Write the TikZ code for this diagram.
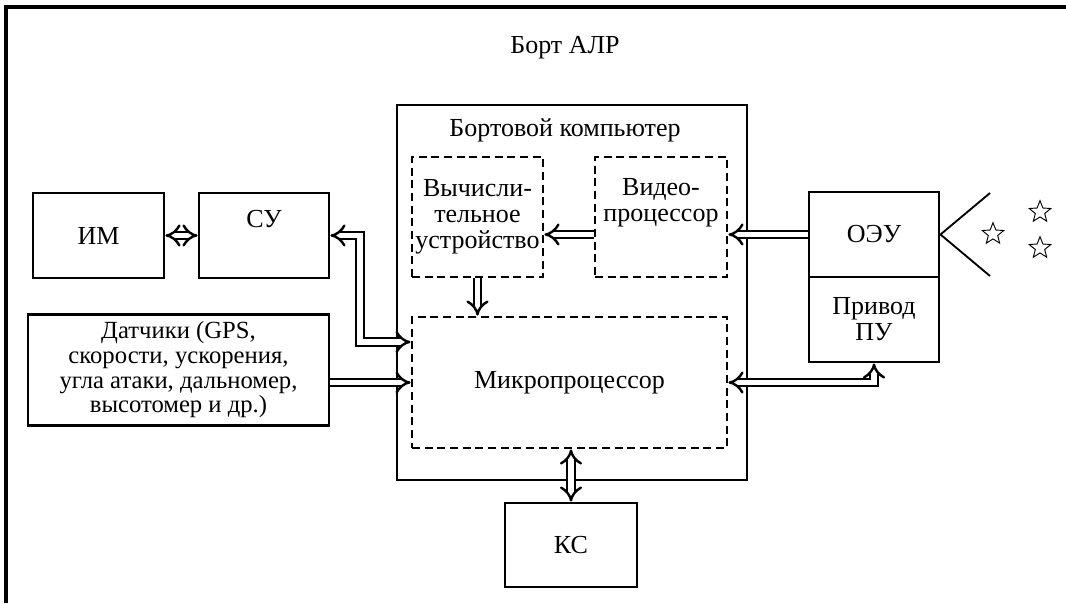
\documentclass[tikz,border=0pt]{standalone}
\usepackage{fontspec}
\setmainfont{Liberation Serif}
\usetikzlibrary{arrows.meta,positioning,shapes.geometric,calc}
\tikzset{
  blk/.style={draw, line width=2.2pt, align=center, inner sep=0pt},
  dsh/.style={draw, line width=2.2pt, dash pattern=on 6pt off 3.5pt, align=center, inner sep=0pt},
  dbl/.style={draw, line width=1.8pt, double, double distance=3.8pt},
  ray/.style={line width=1.4pt},
  starnode/.style={star, star points=5, star point ratio=2.3, draw, line width=0.7pt, minimum size=17pt, inner sep=0pt},
}
\begin{document}
\begin{tikzpicture}[x=0.75pt, y=-0.75pt, font=\fontsize{19.5}{19.5}\selectfont,
    >={Implies[scale=1.2]}]
  \useasboundingbox (0,0) rectangle (1066,603);
  % frame of the vehicle
  \draw[line width=2.5pt] (6,603) -- (6,7) -- (1066,7);
  \node (bort) at (565,48) {Борт АЛР};

  % on-board computer
  \node[blk, minimum width=262.5pt, minimum height=281.25pt] (comp) at (572,292.5) {};
  \node (complbl) at (565,130) {Бортовой компьютер};
  \node[dsh, minimum width=98.25pt, minimum height=90pt] (vu) at (477.5,217) {Вычисли-\\тельное\\устройство};
  \node[dsh, minimum width=99pt, minimum height=90pt] (vp) at (661,217) {Видео-\\процессор\\[6pt]};
  \node[dsh, minimum width=236.25pt, minimum height=98.25pt] (mp) at (569.5,382.5) {Микропроцессор};

  % left side
  \node[blk, minimum width=98.25pt, minimum height=63.75pt] (im) at (98.5,235.5) {ИМ};
  \node[blk, minimum width=97.5pt, minimum height=63.75pt] (su) at (264,235.5) {СУ\\[6pt]};
  \node[blk, minimum width=225.75pt, minimum height=83pt, font=\fontsize{18.5}{18.5}\selectfont] (dat) at (178.5,370)
    {Датчики (GPS,\\скорости, ускорения,\\угла атаки, дальномер,\\высотомер и др.)};

  % right side
  \node[blk, minimum width=97.5pt, minimum height=63.75pt] (oeu) at (874,234.5) {ОЭУ};
  \node[blk, minimum width=97.5pt, minimum height=63.75pt] (pu) at (874,319.5) {Привод\\ПУ};
  \coordinate (rayup) at (990,193);
  \coordinate (raydn) at (990,276);
  \draw[ray] (rayup) -- (oeu.east) -- (raydn);
  \node[starnode] (st1) at (993,234) {};
  \node[starnode] (st2) at (1040,212) {};
  \node[starnode] (st3) at (1040,248) {};

  % bottom
  \node[blk, minimum width=99pt, minimum height=63pt] (ks) at (571,545) {КС};

  % links
  \draw[dbl, {Implies[scale=1]}-{Implies[scale=1]}] (im.east) -- (su.west);
  \draw[dbl, ->] (oeu.west) -- (oeu.west -| vp.east);
  \draw[dbl, ->] (vp.west |- oeu) -- (vu.east |- oeu);
  \draw[dbl, ->] (vu.south) -- (mp.north -| vu);
  \coordinate (knee) at (360,342);
  \draw[dbl, <->] (su.east) -| (knee) -- (mp.west |- knee);
  \draw[dbl, ->] (dat.east |- mp.west) -- (mp.west);
  \draw[dbl, <->] (mp.east) -| (pu.south);
  \draw[dbl, <->] (mp.south -| ks) -- (ks.north);
\end{tikzpicture}
\end{document}
